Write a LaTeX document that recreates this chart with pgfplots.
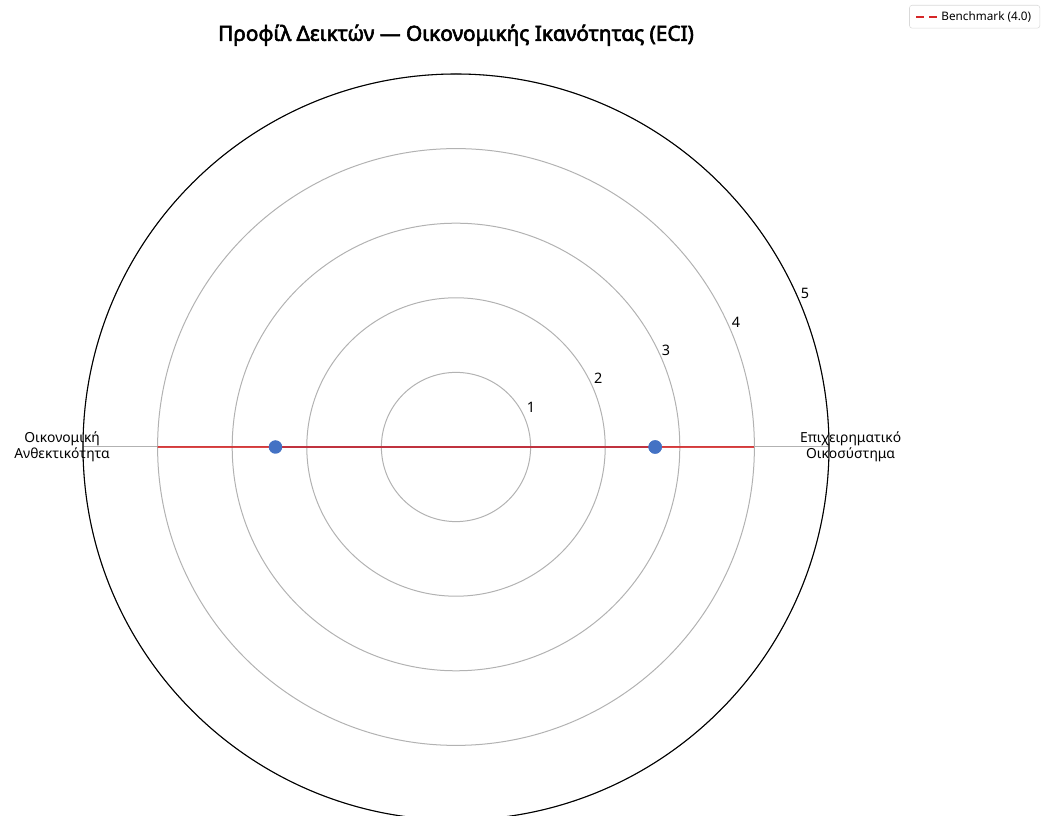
\documentclass[border=0pt]{standalone}
\usepackage{fontspec}
\setmainfont{Noto Sans}[AutoFakeBold=3]
\usepackage{pgfplots}
\pgfplotsset{compat=1.18}
\usepgfplotslibrary{polar}
\definecolor{dblue}{RGB}{68,114,196}
\definecolor{bred}{RGB}{214,39,40}
\definecolor{gridgray}{RGB}{178,178,178}
\begin{document}
\begin{tikzpicture}
\useasboundingbox (0pt,0pt) rectangle (783.75pt,612pt);
\begin{polaraxis}[
 at={(342pt,276.75pt)}, anchor=origin,
 width=559.5pt, height=559.5pt, scale only axis,
 ymin=0, ymax=5, xmin=0, xmax=360,
 xtick={0,180}, xticklabels={},
 ytick={1,2,3,4,5}, yticklabels={},
 major tick length=0pt,
 grid=major, major grid style={gridgray, line width=0.75pt},
 axis line style={black, line width=0.8pt},
 y axis line style={draw=none},
 clip=false,
 legend style={at={(axis description cs:1.283,1.0925)}, anchor=north east,
   font=\fontsize{8.8}{10}\selectfont, draw=gray!30, rounded corners=2pt,
   legend cell align=left, inner xsep=4.5pt, inner ysep=2.5pt},
 legend image code/.code={\draw[#1] (0pt,0pt) -- (16pt,0pt);},
]
\addplot[dblue, line width=1.5pt, fill=dblue, fill opacity=0.25, mark=*, mark size=4.3pt,
  mark options={fill=dblue, fill opacity=1, draw=dblue}, forget plot]
  coordinates {(0,2.67) (180,2.42) (0,2.67)};
\addplot[bred, line width=1.5pt, opacity=0.85, forget plot]
  coordinates {(0,4) (180,4) (0,4)};
\addlegendimage{bred, dash pattern=on 6pt off 3.5pt, line width=1.5pt}
\addlegendentry{Benchmark (4.0)}
\node[font=\fontsize{10.4}{12}\selectfont, align=center] at (axis cs:0,5.29) {Επιχειρηματικό\\Οικοσύστημα};
\node[font=\fontsize{10.4}{12}\selectfont, align=center] at (axis cs:180,5.28) {Οικονομική\\Ανθεκτικότητα};
\node[font=\fontsize{10.8}{12}\selectfont] at (axis cs:28,1.14) {1};
\node[font=\fontsize{10.8}{12}\selectfont] at (axis cs:25.9,2.12) {2};
\node[font=\fontsize{10.8}{12}\selectfont] at (axis cs:24.8,3.10) {3};
\node[font=\fontsize{10.8}{12}\selectfont] at (axis cs:24.06,4.11) {4};
\node[font=\fontsize{10.8}{12}\selectfont] at (axis cs:23.7,5.11) {5};
\node[font=\bfseries\fontsize{15.6}{18}\selectfont] at (axis cs:90,5.52) {Προφίλ Δεικτών — Οικονομικής Ικανότητας (ECI)};
\end{polaraxis}
\end{tikzpicture}
\end{document}
